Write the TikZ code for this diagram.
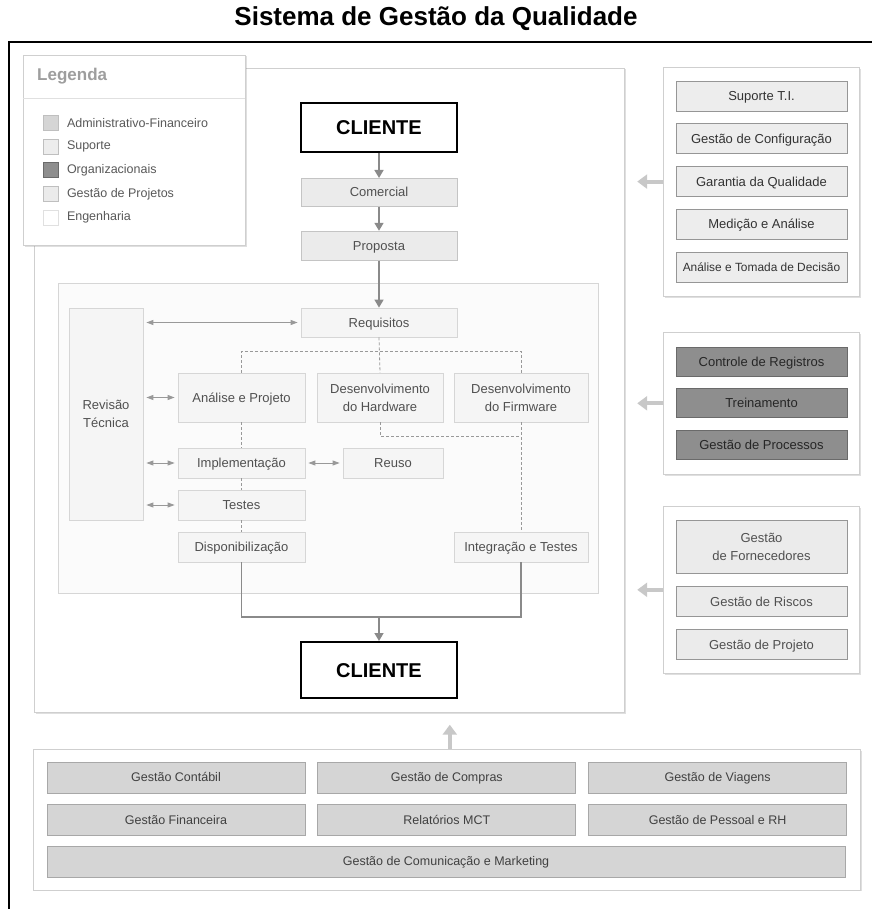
\documentclass[tikz,border=0pt]{standalone}
\usepackage{fontspec}
\setmainfont{Liberation Sans}
\usetikzlibrary{arrows.meta,positioning,fit,backgrounds,shadows}

\definecolor{admfundo}{HTML}{D5D5D5}
\definecolor{admborda}{HTML}{A8A8A8}
\definecolor{supfundo}{HTML}{EDEDED}
\definecolor{supborda}{HTML}{969696}
\definecolor{orgfundo}{HTML}{8E8E8E}
\definecolor{orgborda}{HTML}{6A6A6A}
\definecolor{projfundo}{HTML}{EBEBEB}
\definecolor{projborda}{HTML}{C4C4C4}
\definecolor{engfundo}{HTML}{F5F5F5}
\definecolor{engborda}{HTML}{D6D6D6}
\definecolor{painelborda}{HTML}{CFCFCF}
\definecolor{texto}{HTML}{505050}
\definecolor{fluxocor}{HTML}{8A8A8A}
\definecolor{setaclara}{HTML}{C8C8C8}

\begin{document}
\begin{tikzpicture}[
    x=1pt, y=-1pt,
    node distance=12pt,
    every node/.style={inner sep=0pt, align=center},
    caixa/.style={draw, line width=0.8pt, text=texto, font=\fontsize{13}{18}\selectfont, text height=12pt, text depth=3pt},
    duaslinhas/.style={text height={}, text depth={}},
    eng/.style={caixa, draw=engborda, fill=engfundo},
    proj/.style={caixa, draw=projborda, fill=projfundo},
    sup/.style={caixa, draw=supborda, fill=supfundo, text=black!80, minimum width=171pt, minimum height=30pt},
    org/.style={caixa, draw=orgborda, fill=orgfundo, text=black!85, minimum width=171pt, minimum height=29pt},
    adm/.style={caixa, draw=admborda, fill=admfundo, text=black!75, font=\fontsize{12.5}{15}\selectfont, text height=11.5pt, minimum width=258pt, minimum height=31pt},
    cliente/.style={draw=black, line width=2pt, fill=white, font=\bfseries\fontsize{20}{24}\selectfont, text height=18pt, text depth=4pt, minimum width=156pt},
    painel/.style={draw=painelborda, line width=0.8pt, fill=white, drop shadow={shadow xshift=1.5pt, shadow yshift=-1.5pt, opacity=0.25}},
    amostra/.style={draw=black!25, line width=0.6pt, minimum size=15pt},
    legtexto/.style={text=black!65, font=\fontsize{12.5}{15}\selectfont, anchor=west},
    fluxo/.style={draw=fluxocor, line width=1.6pt, -{Triangle[length=8pt,width=9pt]}},
    linha/.style={draw=fluxocor, line width=1.6pt},
    dupla/.style={draw=black!40, line width=0.9pt, {Triangle[length=7pt,width=5pt]}-{Triangle[length=7pt,width=5pt]}, shorten <=3pt, shorten >=3pt},
    tracejado/.style={draw=black!40, line width=0.8pt, dash pattern=on 3pt off 2pt},
    setagrossa/.style={draw=setaclara, line width=4pt, -{Triangle[length=10pt,width=14pt]}}
]
\useasboundingbox (0,0) rectangle (872,909);

% moldura e titulo
\draw[line width=2pt] (9,909) -- (9,42) -- (872,42);
\node[font=\bfseries\fontsize{26}{30}\selectfont] (titulo) at (436,19) {Sistema de Gestão da Qualidade};

% caixa principal
\node[painel, minimum width=590pt, minimum height=644pt] (principal) at (329,390) {};
\node[draw=engborda, line width=0.8pt, fill=black!1.5, minimum width=540pt, minimum height=310pt] (engpainel) at (328,438) {};

% legenda
\node[painel, minimum width=222pt, minimum height=190pt] (legenda) at (134,150) {};
\node[anchor=west, text=black!38, font=\bfseries\fontsize{17}{20}\selectfont] (legtitulo) at (37,76) {Legenda};
\draw[draw=black!12, line width=0.8pt] (23,98) -- (245,98);
\node[amostra, fill=admfundo] (amA) at (51,123) {};
\node[amostra, fill=supfundo, below=8pt of amA] (amB) {};
\node[amostra, fill=orgfundo, draw=orgborda, below=8pt of amB] (amC) {};
\node[amostra, fill=projfundo, below=8pt of amC] (amD) {};
\node[amostra, fill=white, draw=black!12, below=8pt of amD] (amE) {};
\node[legtexto, right=8pt of amA] (ltA) {Administrativo-Financeiro};
\node[legtexto, right=8pt of amB] (ltB) {Suporte};
\node[legtexto, right=8pt of amC] (ltC) {Organizacionais};
\node[legtexto, right=8pt of amD] (ltD) {Gestão de Projetos};
\node[legtexto, right=8pt of amE] (ltE) {Engenharia};

% fluxo comercial
\node[cliente, minimum height=49pt] (clienteA) at (379,127.5) {CLIENTE};
\node[proj, minimum width=156pt, minimum height=28pt, below=25pt of clienteA] (comercial) {Comercial};
\node[proj, minimum width=156pt, minimum height=29pt, below=24pt of comercial] (proposta) {Proposta};

% engenharia
\node[eng, minimum width=156pt, minimum height=29pt] (requisitos) at (379,322.5) {Requisitos};
\node[eng, duaslinhas, minimum width=74pt, minimum height=212pt] (revisao) at (106,414) {Revisão\\Técnica};
\node[eng, minimum width=127pt, minimum height=49pt] (analise) at (241.5,397.5) {Análise e Projeto};
\node[eng, duaslinhas, minimum width=126pt, minimum height=49pt] (hardware) at (380,397.5) {Desenvolvimento\\do Hardware};
\node[eng, duaslinhas, minimum width=134pt, minimum height=49pt] (firmware) at (521,397.5) {Desenvolvimento\\do Firmware};
\node[eng, minimum width=127pt, minimum height=30pt] (implem) at (241.5,463) {Implementação};
\node[eng, minimum width=100pt, minimum height=30pt] (reuso) at (393,463) {Reuso};
\node[eng, minimum width=127pt, minimum height=30pt] (testes) at (241.5,505) {Testes};
\node[eng, minimum width=127pt, minimum height=30pt] (disp) at (241.5,547) {Disponibilização};
\node[eng, minimum width=134pt, minimum height=30pt] (integ) at (521,547) {Integração e Testes};
\node[cliente, minimum height=56pt] (clienteB) at (379,670) {CLIENTE};

\coordinate (ramo) at (379,351);
\coordinate (juncao) at (521,436);
\coordinate (saida) at (379,617);

% ligacoes
\draw[fluxo] (clienteA) -- (comercial);
\draw[fluxo] (comercial) -- (proposta);
\draw[fluxo] (proposta) -- (requisitos);
\draw[dupla] (revisao.east |- requisitos.west) -- (requisitos.west);
\draw[dupla] (revisao.east |- analise.west) -- (analise.west);
\draw[dupla] (revisao.east |- implem.west) -- (implem.west);
\draw[dupla] (revisao.east |- testes.west) -- (testes.west);
\draw[dupla] (implem.east) -- (reuso.west);
\draw[tracejado] (requisitos.south) -- (hardware.north);
\draw[tracejado] (analise.north) |- (ramo) -| (firmware.north);
\draw[tracejado] (analise) -- (implem);
\draw[tracejado] (implem) -- (testes);
\draw[tracejado] (testes) -- (disp);
\draw[tracejado] (hardware.south) |- (juncao);
\draw[tracejado] (firmware) -- (integ);
\draw[linha] (disp.south) |- (saida) -| (integ.south);
\draw[fluxo] (saida) -- (clienteB);

% suporte
\node[sup] (suporteti) at (761.5,96) {Suporte T.I.};
\node[sup, below=of suporteti] (configuracao) {Gestão de Configuração};
\node[sup, below=of configuracao] (garantia) {Garantia da Qualidade};
\node[sup, below=of garantia] (medicao) {Medição e Análise};
\node[sup, below=of medicao, font=\fontsize{11.9}{14}\selectfont, text height=11pt] (decisao) {Análise e Tomada de Decisão};

% organizacionais
\node[org] (controle) at (761.5,361.5) {Controle de Registros};
\node[org, below=of controle] (treinamento) {Treinamento};
\node[org, below=of treinamento] (processos) {Gestão de Processos};

% gestao de projetos
\node[proj, duaslinhas, draw=supborda, minimum width=171pt, minimum height=53pt] (fornecedores) at (761.5,546.5) {Gestão\\de Fornecedores};
\node[proj, draw=supborda, minimum width=171pt, minimum height=30pt, below=13pt of fornecedores] (riscos) {Gestão de Riscos};
\node[proj, draw=supborda, minimum width=171pt, minimum height=30pt, below=of riscos] (gestprojeto) {Gestão de Projeto};

% administrativo-financeiro
\node[adm] (contabil) at (176,777.5) {Gestão Contábil};
\node[adm, right=of contabil] (compras) {Gestão de Compras};
\node[adm, right=of compras] (viagens) {Gestão de Viagens};
\node[adm, below=11pt of contabil] (financeira) {Gestão Financeira};
\node[adm, right=of financeira] (relatorios) {Relatórios MCT};
\node[adm, right=of relatorios] (pessoal) {Gestão de Pessoal e RH};
\node[adm, minimum width=798pt] (comunicacao) at (446,861.5) {Gestão de Comunicação e Marketing};

% paineis
\begin{scope}[on background layer]
\node[painel, fit=(suporteti)(decisao), inner xsep=12pt, inner ysep=13.5pt] (painelsup) {};
\node[painel, fit=(controle)(processos), inner xsep=12pt, inner ysep=14pt] (painelorg) {};
\node[painel, fit=(fornecedores)(gestprojeto), inner xsep=12pt, inner ysep=13.5pt] (painelproj) {};
\node[painel, fit=(contabil)(comunicacao)(viagens), inner xsep=13pt, inner ysep=12.5pt] (paineladm) {};
\end{scope}

\draw[setagrossa] (painelsup.west) -- ++(-26,0);
\draw[setagrossa] (painelorg.west) -- ++(-26,0);
\draw[setagrossa] (painelproj.west) -- ++(-26,0);
\draw[setagrossa] ([xshift=3pt]paineladm.north) -- ++(0,-24);

\end{tikzpicture}
\end{document}
